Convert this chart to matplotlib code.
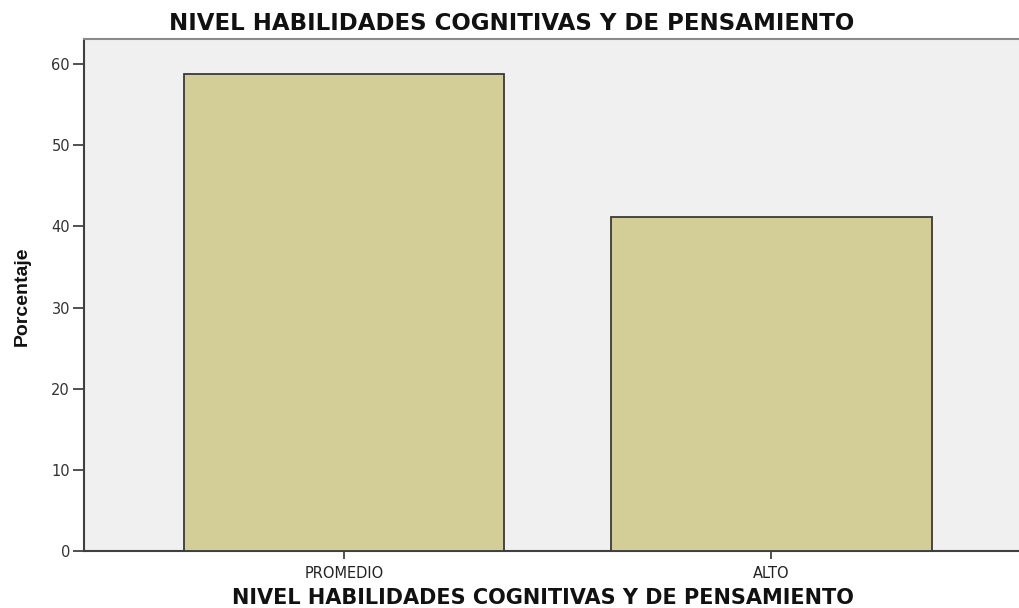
import matplotlib.pyplot as plt

categories = ['PROMEDIO', 'ALTO']
percentages = [58.8, 41.2]
y_ticks = [0, 10, 20, 30, 40, 50, 60]

TITLE = 'NIVEL HABILIDADES COGNITIVAS Y DE PENSAMIENTO'
BAR_COLOR = '#d3ce98'
BG_COLOR = '#f0f0f0'

plt.rcParams['font.family'] = ['DejaVu Sans']

fig = plt.figure(figsize=(10.19, 6.08), dpi=100)
ax = fig.add_axes([84 / 1019, 1 - 551 / 608, 1 - 84 / 1019, (551 - 39) / 608])
ax.set_facecolor(BG_COLOR)

x = list(range(len(categories)))
ax.bar(x, percentages, width=0.749, color=BAR_COLOR,
       edgecolor='#3a3a3a', linewidth=1.3, zorder=3)

ax.set_xlim(-0.608, 1.579)
ax.set_ylim(0, 63.1)
ax.set_xticks(x)
ax.set_xticklabels(categories, fontsize=10.5, color='#222222')
ax.set_yticks(y_ticks)
ax.tick_params(axis='y', labelsize=10.5, length=8, width=1.2, pad=2,
               color='#333333', labelcolor='#333333')
ax.tick_params(axis='x', length=6, width=1.2, pad=5, color='#333333')

for side in ['left', 'bottom']:
    ax.spines[side].set_color('#404040')
    ax.spines[side].set_linewidth(1.5)
ax.spines['top'].set_color('#8a8a8a')
ax.spines['top'].set_linewidth(1.5)
ax.spines['right'].set_visible(False)

# titulo y etiquetas
fig.text(512 / 1019, 1 - 23 / 608, TITLE, ha='center', va='center',
         fontsize=16.5, fontweight='bold', color='#111111')
fig.text(543 / 1019, 1 - 598 / 608, TITLE, ha='center', va='center',
         fontsize=15, fontweight='bold', color='#111111')
fig.text(22 / 1019, 1 - 296 / 608, 'Porcentaje', ha='center', va='center',
         rotation=90, fontsize=14, fontweight='bold', color='#111111',
         family=['Liberation Sans Narrow', 'Liberation Sans', 'DejaVu Sans'],
         fontstretch='condensed')

plt.savefig('out.png', dpi=100)
